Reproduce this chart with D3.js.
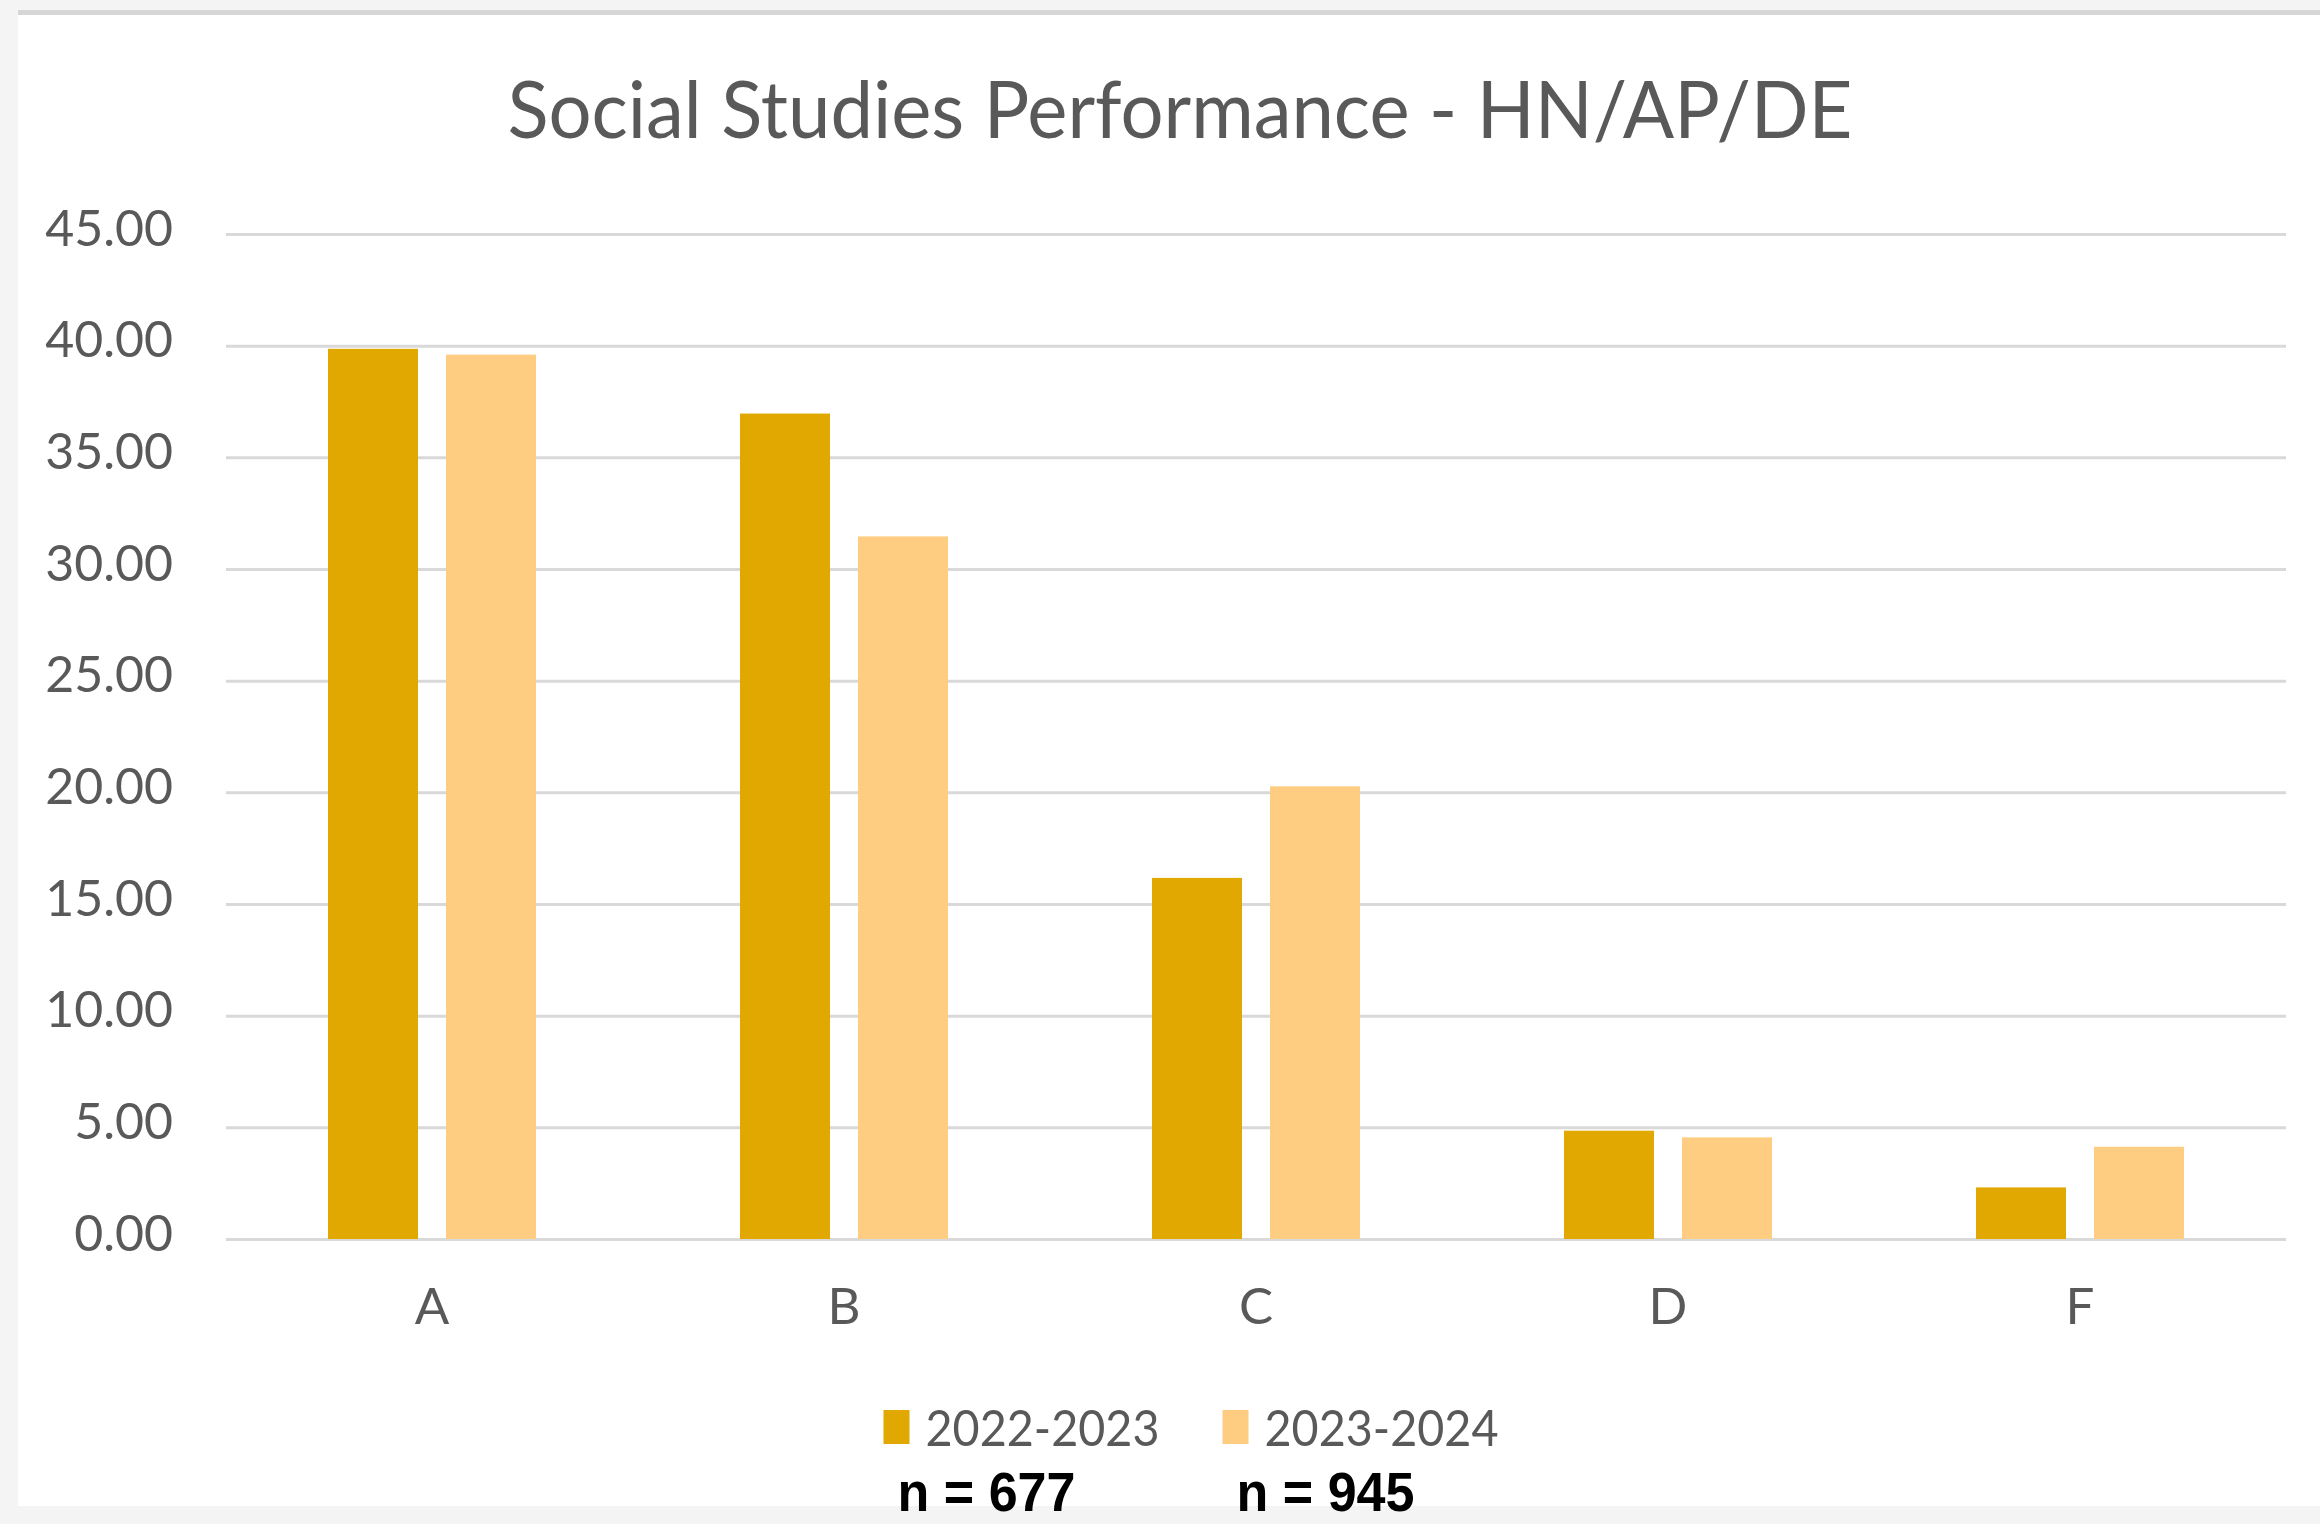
<!DOCTYPE html>
<html>
<head>
<meta charset="utf-8">
<script src="https://cdn.jsdelivr.net/npm/d3@7"></script>
<style>
  html, body { margin: 0; padding: 0; background: #f4f4f4; }
  svg { display: block; }
</style>
</head>
<body>
<svg id="chart" width="2320" height="1524"></svg>
<script>
// Grade distribution (percent of students) for two school years
const categories = ["A", "B", "C", "D", "F"];
const seriesNames = ["2022-2023", "2023-2024"];
const values2022 = [39.86, 36.96, 16.17, 4.85, 2.31];
const values2023 = [39.60, 31.46, 20.27, 4.55, 4.13];
const yTicks = [0, 5, 10, 15, 20, 25, 30, 35, 40, 45];
const sampleSizes = ["n = 677", "n = 945"];
const seriesColors = ["#e0a800", "#fecd82"];
const titleText = "Social Studies Performance - HN/AP/DE";

const svg = d3.select("#chart");
const W = 2320, H = 1524;

// page frame
svg.append("rect").attr("x", 0).attr("y", 0).attr("width", W).attr("height", H).attr("fill", "#f4f4f4");
svg.append("rect").attr("x", 18).attr("y", 14).attr("width", W - 18).attr("height", 1492).attr("fill", "#ffffff");
svg.append("rect").attr("x", 18).attr("y", 10).attr("width", W - 18).attr("height", 5).attr("fill", "#d6d6d6");

const plot = { left: 226, right: 2286, top: 234, bottom: 1239 };

const x0 = d3.scaleBand().domain(categories).range([plot.left, plot.right]).paddingInner(0).paddingOuter(0);
const groupWidth = 208;
const x1 = d3.scaleBand().domain(seriesNames).range([0, groupWidth]).paddingInner(0.2373).paddingOuter(0);
const y = d3.scaleLinear().domain([0, 45]).range([plot.bottom, plot.top]);

const textColor = "#595959";
const font = "Lato, 'Open Sans', sans-serif";

// title
svg.append("text")
  .attr("x", 1180).attr("y", 138)
  .attr("text-anchor", "middle")
  .attr("font-family", font).attr("font-size", 80)
  .attr("fill", textColor)
  .attr("textLength", 1345).attr("lengthAdjust", "spacingAndGlyphs")
  .text(titleText);

// value axis with gridlines
const yAxis = d3.axisLeft(y)
  .tickValues(yTicks)
  .tickFormat(d3.format(".2f"))
  .tickSize(-(plot.right - plot.left))
  .tickPadding(53);

const gy = svg.append("g").attr("transform", `translate(${plot.left},0)`).call(yAxis);
gy.select(".domain").remove();
gy.selectAll(".tick line").attr("stroke", "#d9d9d9").attr("stroke-width", 3);
gy.selectAll(".tick text")
  .attr("font-family", font).attr("font-size", 50)
  .attr("fill", textColor)
  .attr("dy", "0.22em");

// bars
const rows = categories.map((c, i) => ({ cat: c, vals: [values2022[i], values2023[i]] }));
const groups = svg.append("g").selectAll("g").data(rows).join("g")
  .attr("transform", d => `translate(${x0(d.cat) + (x0.bandwidth() - groupWidth) / 2},0)`);

groups.selectAll("rect")
  .data(d => d.vals.map((v, k) => ({ series: seriesNames[k], value: v, k })))
  .join("rect")
  .attr("x", d => x1(d.series))
  .attr("width", x1.bandwidth())
  .attr("y", d => y(d.value))
  .attr("height", d => y(0) - y(d.value))
  .attr("fill", d => seriesColors[d.k]);

// category axis labels
const xAxis = d3.axisBottom(x0).tickSize(0).tickPadding(0);
const gx = svg.append("g").attr("transform", `translate(0,${plot.bottom})`).call(xAxis);
gx.select(".domain").remove();
gx.selectAll(".tick text")
  .attr("font-family", font).attr("font-size", 51)
  .attr("fill", textColor)
  .attr("y", 85).attr("dy", 0);

// legend
const legend = svg.append("g");
const sqW = 26, sqH = 34, textGap = 42, textW = 234, itemGap = 63;
const itemW = textGap + textW;
const total = itemW * seriesNames.length + itemGap * (seriesNames.length - 1);
const legendStart = 1191 - total / 2;
const itemX = i => legendStart + i * (itemW + itemGap);

const items = legend.selectAll("g").data(seriesNames).join("g")
  .attr("transform", (d, i) => `translate(${itemX(i)},0)`);
items.append("rect")
  .attr("width", sqW).attr("height", sqH)
  .attr("y", 1410)
  .attr("fill", (d, i) => seriesColors[i]);
items.append("text")
  .attr("x", textGap).attr("y", 1446)
  .attr("font-family", font).attr("font-size", 51)
  .attr("fill", textColor)
  .attr("textLength", textW).attr("lengthAdjust", "spacingAndGlyphs")
  .text(d => d);

// sample sizes under the legend
svg.append("g").selectAll("text").data(sampleSizes).join("text")
  .attr("x", (d, i) => itemX(i) + 14)
  .attr("y", 1511)
  .attr("font-family", "'Liberation Sans', Arial, sans-serif")
  .attr("font-weight", "bold")
  .attr("font-size", 55)
  .attr("fill", "#000000")
  .attr("textLength", 178).attr("lengthAdjust", "spacingAndGlyphs")
  .text(d => d);
</script>
</body>
</html>
